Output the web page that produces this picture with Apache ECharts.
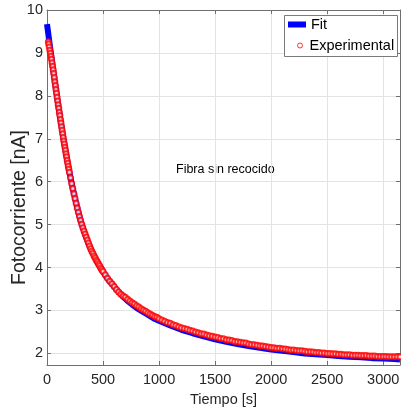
<!DOCTYPE html>
<html>
<head>
<meta charset="utf-8">
<script src="https://cdn.jsdelivr.net/npm/echarts@6/dist/echarts.min.js"></script>
<style>
  html, body { margin: 0; padding: 0; background: #fff; }
  #chart { width: 401px; height: 413px; }
</style>
</head>
<body>
<div id="chart"></div>
<script>
// tick labels
const xTicks = [0, 500, 1000, 1500, 2000, 2500, 3000]
const yTicks = [2, 3, 4, 5, 6, 7, 8, 9, 10]

// fit curve (s, nA)
const fitTime = [
  0, 25, 50, 75, 100, 125, 150, 175, 200, 225, 250, 275, 300, 325, 350, 375, 400,
  425, 450, 475, 500, 525, 550, 575, 600, 625, 650, 675, 700, 725, 750, 775, 800,
  825, 850, 875, 900, 925, 950, 975, 1000,
  1100, 1200, 1300, 1400, 1500, 1600, 1700, 1800, 1900, 2000, 2100, 2200, 2300,
  2400, 2500, 2600, 2700, 2800, 2900, 3000, 3100, 3150
]
const fitValue = [
  9.67, 9.18, 8.70, 8.24, 7.79, 7.36, 6.95, 6.57, 6.22, 5.90, 5.61, 5.34, 5.09, 4.89, 4.70, 4.53, 4.38,
  4.25, 4.12, 4.01, 3.90, 3.80, 3.71, 3.63, 3.55, 3.47, 3.40, 3.33, 3.27, 3.21, 3.16, 3.11, 3.06,
  3.02, 2.98, 2.94, 2.90, 2.86, 2.82, 2.79, 2.76,
  2.65, 2.55, 2.47, 2.40, 2.33, 2.27, 2.22, 2.17, 2.13, 2.09, 2.06, 2.03, 2.00,
  1.98, 1.96, 1.94, 1.92, 1.91, 1.89, 1.88, 1.87, 1.86
]

// experimental points (s, nA)
const expTime = [
  12, 15, 20, 25, 30, 35, 40, 45, 50, 55, 60, 65, 70, 75, 80, 85, 90, 95, 100,
  105, 110, 115, 120, 125, 130, 135, 140, 145, 150, 155, 160, 165, 170, 175, 180, 185, 190, 195, 200,
  210, 220, 230, 240, 250, 260, 270, 280, 290, 300, 310, 320, 330, 340, 350,
  360, 370, 380, 390, 400, 410, 420, 430, 440, 450, 460, 470, 480, 490, 500,
  520, 540, 560, 580, 600, 620, 640, 660, 680, 700, 720, 740, 760, 780, 800,
  820, 840, 860, 880, 900, 920, 940, 960, 980, 1000,
  1025, 1050, 1075, 1100, 1125, 1150, 1175, 1200, 1225, 1250, 1275, 1300, 1325, 1350, 1375, 1400,
  1425, 1450, 1475, 1500, 1525, 1550, 1575, 1600, 1625, 1650, 1675, 1700, 1725, 1750, 1775, 1800,
  1825, 1850, 1875, 1900, 1925, 1950, 1975, 2000, 2025, 2050, 2075, 2100, 2125, 2150, 2175, 2200,
  2225, 2250, 2275, 2300, 2325, 2350, 2375, 2400, 2425, 2450, 2475, 2500, 2525, 2550, 2575, 2600,
  2625, 2650, 2675, 2700, 2725, 2750, 2775, 2800, 2825, 2850, 2875, 2900, 2925, 2950, 2975, 3000,
  3025, 3050, 3075, 3100, 3125, 3150
]
const expValue = [
  9.26, 9.21, 9.14, 9.06, 8.99, 8.92, 8.85, 8.77, 8.69, 8.61, 8.52, 8.43, 8.33, 8.24, 8.15, 8.06, 7.97, 7.88, 7.79,
  7.71, 7.62, 7.54, 7.45, 7.37, 7.28, 7.20, 7.12, 7.03, 6.95, 6.88, 6.80, 6.73, 6.65, 6.58, 6.50, 6.43, 6.36, 6.29, 6.22,
  6.09, 5.96, 5.84, 5.72, 5.61, 5.50, 5.39, 5.29, 5.19, 5.10, 5.01, 4.93, 4.85, 4.78, 4.71,
  4.64, 4.57, 4.50, 4.44, 4.38, 4.33, 4.27, 4.22, 4.17, 4.13, 4.08, 4.04, 3.99, 3.95, 3.91,
  3.83, 3.75, 3.68, 3.62, 3.56, 3.49, 3.43, 3.38, 3.34, 3.31, 3.26, 3.22, 3.18, 3.15, 3.11,
  3.08, 3.04, 3.01, 2.98, 2.95, 2.92, 2.89, 2.86, 2.84, 2.81,
  2.78, 2.75, 2.72, 2.70, 2.67, 2.65, 2.62, 2.60, 2.58, 2.56, 2.54, 2.52, 2.50, 2.48, 2.46, 2.45,
  2.43, 2.41, 2.40, 2.38, 2.37, 2.35, 2.34, 2.32, 2.31, 2.30, 2.28, 2.27, 2.26, 2.25, 2.24, 2.22,
  2.21, 2.20, 2.19, 2.18, 2.17, 2.16, 2.15, 2.14, 2.13, 2.12, 2.12, 2.11, 2.10, 2.09, 2.08, 2.08,
  2.07, 2.06, 2.06, 2.05, 2.04, 2.04, 2.03, 2.02, 2.02, 2.01, 2.01, 2.00, 2.00, 1.99, 1.99, 1.98,
  1.98, 1.97, 1.97, 1.97, 1.96, 1.96, 1.96, 1.95, 1.95, 1.95, 1.94, 1.94, 1.94, 1.93, 1.93, 1.93,
  1.93, 1.92, 1.92, 1.92, 1.92, 1.92
]

const font = '"Liberation Sans", Arial, Helvetica, sans-serif'
const axisColor = '#6f6f6f'
const textColor = '#262626'

const chart = echarts.init(document.getElementById('chart'))

// shared bits for the box axes (top / right have no labels)
function boxAxis(extra) {
  return Object.assign({
    type: 'value',
    axisLine: { show: true, onZero: false, lineStyle: { color: axisColor, width: 1 } },
    axisTick: { show: true, inside: true, length: 4, lineStyle: { color: axisColor } },
    splitLine: { show: false },
    axisLabel: { show: false }
  }, extra)
}

chart.setOption({
  animation: false,
  textStyle: { fontFamily: font },
  grid: { left: 47, right: 1, top: 10, bottom: 48, containLabel: false, outerBoundsMode: 'none' },
  xAxis: [
    boxAxis({
      position: 'bottom',
      min: 0,
      max: 3150,
      name: 'Tiempo [s]',
      nameLocation: 'middle',
      nameGap: 27,
      nameMoveOverlap: false,
      nameTextStyle: { color: textColor, fontSize: 14.5, fontFamily: font },
      axisTick: { show: true, inside: true, length: 4, customValues: xTicks, lineStyle: { color: axisColor } },
      axisLabel: {
        show: true, customValues: xTicks, margin: 7, color: textColor, fontSize: 14.5, fontFamily: font,
        formatter: v => String(v)
      },
      splitLine: { show: true, lineStyle: { color: '#e3e3e3', width: 1 } }
    }),
    boxAxis({
      position: 'top',
      min: 0,
      max: 3150,
      axisTick: { show: true, inside: true, length: 4, customValues: xTicks, lineStyle: { color: axisColor } }
    })
  ],
  yAxis: [
    boxAxis({
      position: 'left',
      min: 1.73,
      max: 10,
      name: 'Fotocorriente [nA]',
      nameLocation: 'middle',
      nameGap: 17,
      nameMoveOverlap: false,
      nameTextStyle: { color: textColor, fontSize: 19.5, fontFamily: font, padding: [0, 40, 0, 0] },
      axisTick: { show: true, inside: true, length: 4, customValues: yTicks, lineStyle: { color: axisColor } },
      axisLabel: {
        show: true, customValues: yTicks, margin: 4, color: textColor, fontSize: 14.5, fontFamily: font,
        formatter: v => String(v)
      },
      splitLine: { show: true, lineStyle: { color: '#e3e3e3', width: 1 } }
    }),
    boxAxis({
      position: 'right',
      min: 1.73,
      max: 10,
      axisTick: { show: true, inside: true, length: 4, customValues: yTicks, lineStyle: { color: axisColor } }
    })
  ],
  legend: [
    {
      data: [{ name: 'Fit', icon: 'rect', itemStyle: { color: '#0000ff', borderWidth: 0 } }],
      left: 288,
      top: 17,
      itemWidth: 18,
      itemHeight: 6,
      padding: 0,
      selectedMode: false,
      z: 10,
      textStyle: { color: '#000', fontSize: 14.5, fontFamily: font }
    },
    {
      data: [{ name: 'Experimental', icon: 'circle', itemStyle: { color: '#fff', borderColor: '#ff0000', borderWidth: 1 } }],
      left: 297,
      top: 38,
      itemWidth: 5,
      itemHeight: 5,
      padding: 0,
      selectedMode: false,
      z: 10,
      textStyle: { color: '#000', fontSize: 14.5, fontFamily: font, padding: [0, 0, 0, 2] }
    }
  ],
  graphic: [
    {
      type: 'rect',
      z: 3,
      shape: { x: 284.5, y: 15.5, width: 113, height: 41 },
      style: { fill: '#fff', stroke: '#7a7a7a', lineWidth: 1 }
    },
    {
      type: 'text',
      left: 176,
      top: 163,
      style: { text: 'Fibra sin recocido', fontSize: 12.5, fontFamily: font, fill: '#000' }
    }
  ],
  series: [
    {
      name: 'Fit',
      type: 'line',
      data: fitTime.map((t, i) => [t, fitValue[i]]),
      showSymbol: false,
      clip: false,
      z: 2,
      lineStyle: { color: '#0000ff', width: 6 },
      itemStyle: { color: '#0000ff' }
    },
    {
      name: 'Experimental',
      type: 'scatter',
      data: expTime.map((t, i) => [t, expValue[i]]),
      symbol: 'emptyCircle',
      symbolSize: 5,
      clip: false,
      z: 3,
      itemStyle: { color: '#ff0000', borderColor: '#ff0000', borderWidth: 1.2 }
    }
  ]
})
</script>
</body>
</html>
